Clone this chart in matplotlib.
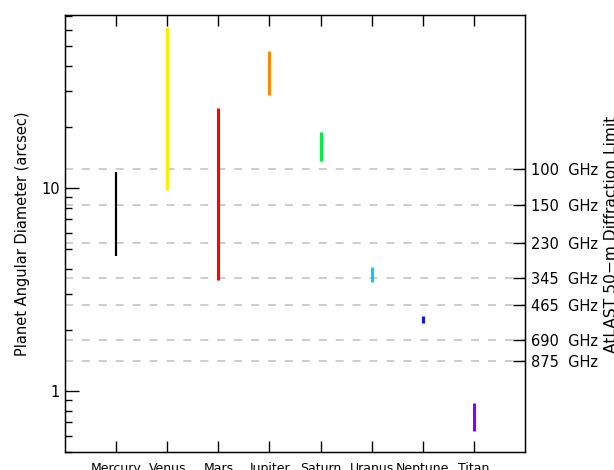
import matplotlib
matplotlib.use('Agg')
import matplotlib.pyplot as plt
from matplotlib.ticker import NullFormatter, LogLocator

# planetas e faixa de diametro angular (arcsec)
planetas = ['Mercury', 'Venus', 'Mars', 'Jupiter', 'Saturn', 'Uranus', 'Neptune', 'Titan']
diam_min = [4.6, 9.8, 3.52, 28.8, 13.6, 3.44, 2.15, 0.635]
diam_max = [12.0, 62.0, 24.8, 47.3, 18.9, 4.08, 2.34, 0.87]
cores = ['black', '#ffee00', '#ff0000', '#ff8800', '#00f040', '#00ccff', '#1010ff', '#8a00ff']
larguras = [1.6, 2.2, 2.2, 2.2, 2.2, 2.2, 2.2, 2.2]

# limite de difracao do AtLAST 50 m (arcsec)
freqs = ['100  GHz', '150  GHz', '230  GHz', '345  GHz', '465  GHz', '690  GHz', '875  GHz']
limite = [12.4, 8.25, 5.38, 3.59, 2.66, 1.79, 1.41]

plt.rcParams['font.family'] = 'DejaVu Sans'

fig = plt.figure(figsize=(6.14, 4.70), dpi=100)
ax = fig.add_axes([0.1059, 0.0383, 0.7491, 0.9297])

x = list(range(1, len(planetas) + 1))

# linhas tracejadas do limite de difracao
for v in limite:
    ax.axhline(v, color='#cccccc', lw=1.4, ls=(0, (4.1, 4.6)), zorder=1)

for xi, lo, hi, c, lw in zip(x, diam_min, diam_max, cores, larguras):
    ax.plot([xi, xi], [lo, hi], color=c, lw=lw, solid_capstyle='butt', zorder=3)

ax.set_yscale('log')
ax.set_ylim(0.5, 71)
ax.set_xlim(0, 9)
ax.set_xticks(x)
ax.set_xticklabels(planetas, fontsize=9)
ax.set_yticks([1, 10])
ax.set_yticklabels(['1', '10'], fontsize=10.5)
ax.yaxis.set_minor_locator(LogLocator(base=10, subs=range(2, 10)))
ax.yaxis.set_minor_formatter(NullFormatter())
ax.tick_params(axis='x', direction='in', top=True, length=8, width=1, pad=7)
ax.tick_params(axis='y', which='major', direction='in', length=10, width=1)
ax.tick_params(axis='y', which='minor', direction='in', length=5, width=1)
ax.set_ylabel('Planet Angular Diameter (arcsec)', fontsize=10.5, labelpad=8)

for s in ax.spines.values():
    s.set_linewidth(1.0)

# eixo da direita com as frequencias
ax2 = ax.twinx()
ax2.set_yscale('log')
ax2.set_ylim(ax.get_ylim())
ax2.set_yticks(limite)
ax2.set_yticklabels(freqs, fontsize=10.5)
ax2.yaxis.set_minor_locator(LogLocator(base=10, subs=[]))
ax2.yaxis.set_minor_formatter(NullFormatter())
ax2.tick_params(axis='y', which='major', direction='in', length=9, width=1, pad=4)
ax2.tick_params(axis='y', which='minor', length=0)

fig.text(611 / 614, 1 - 234 / 470, 'AtLAST 50\u2212m Diffraction Limit', rotation=90,
         ha='center', va='center', fontsize=11.2)

fig.savefig('out.png', dpi=100)
